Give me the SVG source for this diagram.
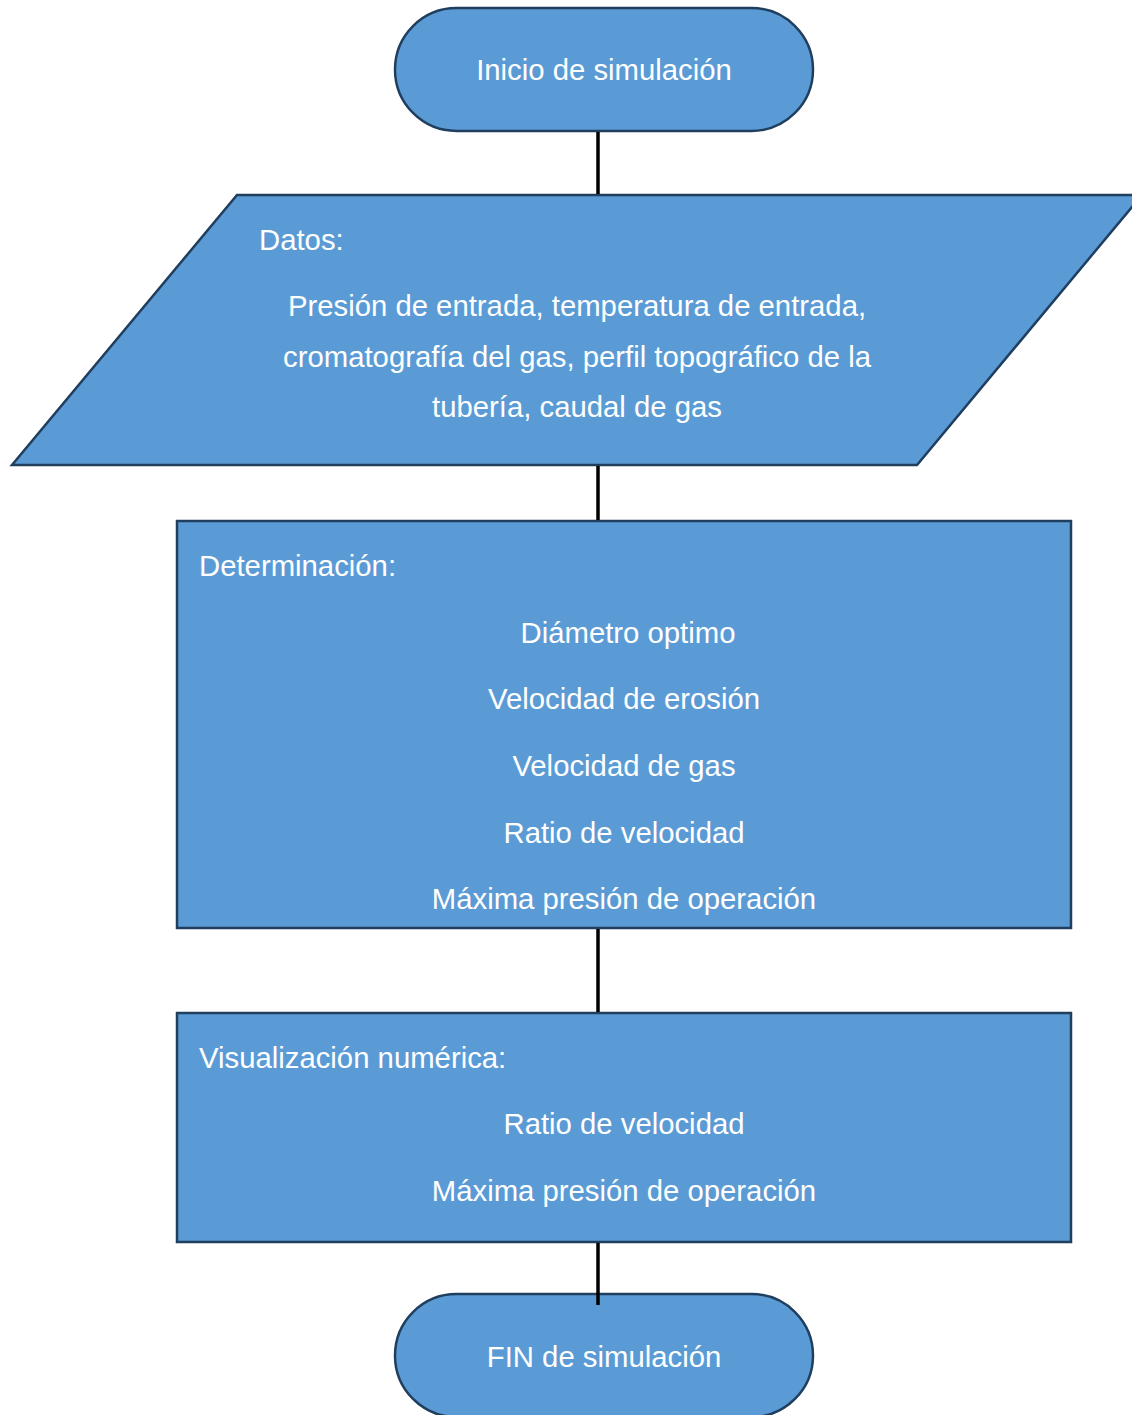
<svg xmlns="http://www.w3.org/2000/svg" width="1132" height="1415" viewBox="0 0 1132 1415">
<style>
.n{fill:#5B9BD5;stroke:#203E5E;stroke-width:2.5}
.t{font-family:"Liberation Sans",Arial,sans-serif;font-size:29.3px;fill:#ffffff}
.c{text-anchor:middle}
.e{stroke:#000;stroke-width:3.5;fill:none}
</style>
<rect width="1132" height="1415" fill="#ffffff"/>
<g id="start">
<rect class="n" x="395" y="8" width="418" height="123" rx="61.5" ry="61.5"/>
<text class="t c" x="604" y="80">Inicio de simulación</text>
</g>
<g id="datos">
<polygon class="n" points="237,195 1142,195 917,465 12,465"/>
<text class="t" x="259" y="250">Datos:</text>
<text class="t c" x="577" y="316">Presión de entrada, temperatura de entrada,</text>
<text class="t c" x="577" y="367">cromatografía del gas, perfil topográfico de la</text>
<text class="t c" x="577" y="417">tubería, caudal de gas</text>
</g>
<g id="determinacion">
<rect class="n" x="177" y="521" width="894" height="407"/>
<text class="t" x="199" y="576">Determinación:</text>
<text class="t c" x="628" y="643">Diámetro optimo</text>
<text class="t c" x="624" y="709">Velocidad de erosión</text>
<text class="t c" x="624" y="776">Velocidad de gas</text>
<text class="t c" x="624" y="843">Ratio de velocidad</text>
<text class="t c" x="624" y="909">Máxima presión de operación</text>
</g>
<g id="visualizacion">
<rect class="n" x="177" y="1013" width="894" height="229"/>
<text class="t" x="199" y="1068">Visualización numérica:</text>
<text class="t c" x="624" y="1134">Ratio de velocidad</text>
<text class="t c" x="624" y="1201">Máxima presión de operación</text>
</g>
<g id="end">
<rect class="n" x="395" y="1294" width="418" height="123" rx="61.5" ry="61.5"/>
<text class="t c" x="604" y="1367">FIN de simulación</text>
</g>
<g id="connectors">
<line class="e" x1="598" y1="132" x2="598" y2="194"/>
<line class="e" x1="598" y1="466" x2="598" y2="520"/>
<line class="e" x1="598" y1="929" x2="598" y2="1012"/>
<line class="e" x1="598" y1="1243" x2="598" y2="1305"/>
</g>
</svg>
